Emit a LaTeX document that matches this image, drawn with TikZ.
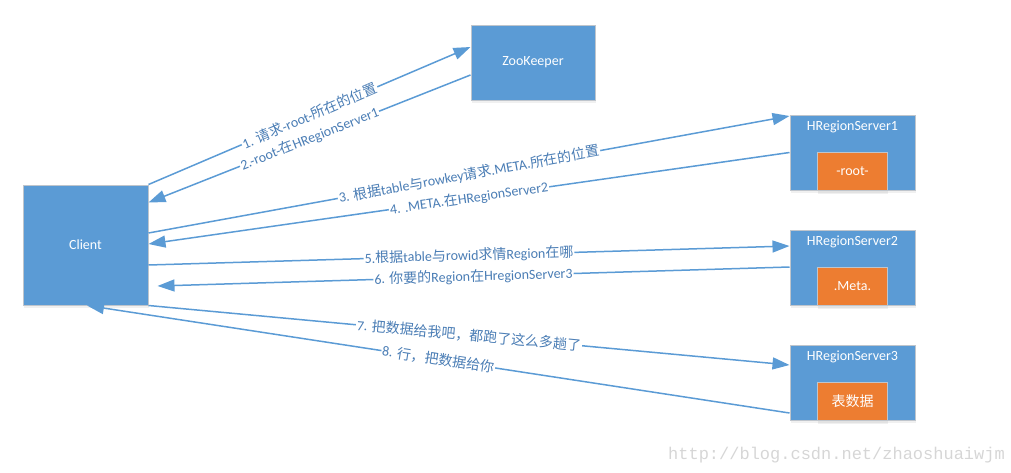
\documentclass[tikz,border=0pt]{standalone}
\usepackage{fontspec}
\setmainfont{Carlito}
\setmonofont{Liberation Mono}
\newfontfamily\zh{Noto Sans CJK SC}
\usetikzlibrary{arrows.meta,shadows}
\definecolor{boxblue}{HTML}{5B9BD5}
\definecolor{boxorange}{HTML}{ED7D31}
\definecolor{boxedge}{HTML}{BFC5CC}
\definecolor{msgblue}{HTML}{4A7DB5}
\definecolor{markgray}{HTML}{D6D6D6}
\newcommand{\cn}[1]{{\zh #1}}
\tikzset{
  box/.style={draw=boxedge, line width=1pt, fill=boxblue, text=white, inner sep=0pt,
    font=\fontsize{14}{16}\selectfont,
    drop shadow={opacity=0.12, shadow xshift=0.5pt, shadow yshift=-3pt}},
  serverbox/.style={box, minimum width=125pt, minimum height=75pt},
  tablebox/.style={box, fill=boxorange, minimum width=70pt, minimum height=38pt},
  boxtitle/.style={text=white, inner sep=0pt, font=\fontsize{14}{16}\selectfont},
  msg/.style={draw=boxblue, line width=1.5pt, -{Triangle[length=17pt,width=12pt]}},
  msgtext/.style={sloped, fill=white, inner sep=1pt, text=msgblue, font=\fontsize{14}{16}\selectfont},
}
\begin{document}
\begin{tikzpicture}[x=1pt, y=-1pt]
  \useasboundingbox (0,0) rectangle (1011,472);

  % boxes
  \node[box, minimum width=125pt, minimum height=120pt] (client) at (85.5,245) {Client};
  \node[box, minimum width=124pt, minimum height=75pt] (zk) at (533,62.5) {ZooKeeper};

  \node[serverbox] (hrs1) at (852.5,152.5) {};
  \node[boxtitle] (title1) at ([yshift=-12pt]hrs1.north) {HRegionServer1};
  \node[tablebox] (root) at ([yshift=19pt]hrs1.south) {-root-};

  \node[serverbox] (hrs2) at (852.5,267.5) {};
  \node[boxtitle] (title2) at ([yshift=-12pt]hrs2.north) {HRegionServer2};
  \node[tablebox] (meta) at ([yshift=19pt]hrs2.south) {.Meta.};

  \node[serverbox] (hrs3) at (852.5,382.5) {};
  \node[boxtitle] (title3) at ([yshift=-12pt]hrs3.north) {HRegionServer3};
  \node[tablebox] (data) at ([yshift=19pt]hrs3.south) {\cn{表数据}};

  % messages
  \draw[msg] (client.north east) -- node[msgtext] {1. \cn{请求}-root-\cn{所在的位置}} ([yshift=15.5pt]zk.west);
  \draw[msg] ([yshift=-12.5pt]zk.west) -- node[msgtext] {2.-root-\cn{在}HRegionServer1} ([yshift=-18pt]client.north east);
  \draw[msg] ([yshift=12pt]client.east) -- node[msgtext] {3. \cn{根据}table\cn{与}rowkey\cn{请求}.META.\cn{所在的位置}} ([yshift=36.5pt]hrs1.west);
  \draw[msg] (hrs1.west) -- node[msgtext] {4. .META.\cn{在}HRegionServer2} ([yshift=1pt]client.east);
  \draw[msg] ([yshift=-20pt]client.east) -- node[msgtext] {5.\cn{根据}table\cn{与}rowid\cn{求情}Region\cn{在哪}} ([yshift=21.5pt]hrs2.west);
  \draw[msg] ([yshift=0.5pt]hrs2.west) -- node[msgtext] {6. \cn{你要的}Region\cn{在}HregionServer3} ([xshift=9pt,yshift=-41pt]client.east);
  \draw[msg] (client.south east) -- node[msgtext] {7. \cn{把数据给我吧，都跑了这么多趟了}} ([yshift=17.5pt]hrs3.west);
  \draw[msg] ([yshift=-30.5pt]hrs3.west) -- node[msgtext] {8. \cn{行，把数据给你}} ([xshift=1.5pt]client.south);

  % watermark
  \node[anchor=east, inner sep=0pt, text=markgray, font=\ttfamily\fontsize{17}{19}\selectfont] (mark) at (1005,455) {http://blog.csdn.net/zhaoshuaiwjm};
\end{tikzpicture}
\end{document}
